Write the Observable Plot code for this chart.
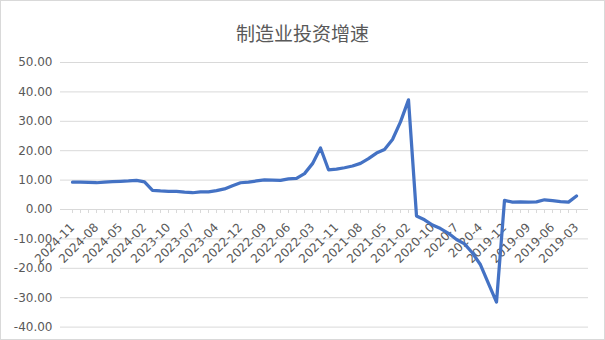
<!DOCTYPE html>
<html>
<head>
<meta charset="utf-8">
<script src="https://cdn.jsdelivr.net/npm/d3@7"></script>
<script src="https://cdn.jsdelivr.net/npm/@observablehq/plot@0.6"></script>
<style>
  html, body { margin: 0; padding: 0; background: #fff; }
  #wrap { position: relative; width: 605px; height: 340px; overflow: hidden; background: #fff; }
  #title { position: absolute; left: 0; right: 0; top: 20px; text-align: center;
           font-family: "Noto Sans CJK SC", sans-serif; font-size: 19px; color: #595959; line-height: 26px; }
  #frame { position: absolute; left: 0; top: 0; width: 603px; height: 338px; border: 1px solid #d9d9d9; pointer-events: none; }
</style>
</head>
<body>
<div id="wrap">
  <div id="chart"></div>
  <div id="title">制造业投资增速</div>
  <div id="frame"></div>
</div>
<script>
const months = [
  "2024-11","2024-10","2024-09","2024-08","2024-07","2024-06","2024-05","2024-04","2024-03","2024-02",
  "2023-12","2023-11","2023-10","2023-09","2023-08","2023-07","2023-06","2023-05","2023-04","2023-03","2023-02",
  "2022-12","2022-11","2022-10","2022-09","2022-08","2022-07","2022-06","2022-05","2022-04","2022-03","2022-02",
  "2021-12","2021-11","2021-10","2021-09","2021-08","2021-07","2021-06","2021-05","2021-04","2021-03","2021-02",
  "2020-12","2020-11","2020-10","2020-9","2020-8","2020-7","2020-6","2020-5","2020-4","2020-3","2020-2",
  "2019-12","2019-11","2019-10","2019-09","2019-08","2019-07","2019-06","2019-05","2019-04","2019-03"
];
const values = [
  9.3, 9.3, 9.2, 9.1, 9.3, 9.5, 9.6, 9.7, 9.9, 9.4,
  6.5, 6.3, 6.2, 6.2, 5.9, 5.7, 6.0, 6.0, 6.4, 7.0, 8.1,
  9.1, 9.3, 9.7, 10.1, 10.0, 9.9, 10.4, 10.6, 12.2, 15.6, 20.9,
  13.5, 13.7, 14.2, 14.8, 15.7, 17.3, 19.2, 20.4, 23.8, 29.8, 37.3,
  -2.2, -3.5, -5.3, -6.5, -8.1, -10.2, -11.7, -14.8, -18.8, -25.2, -31.5,
  3.1, 2.5, 2.6, 2.5, 2.6, 3.3, 3.0, 2.7, 2.5, 4.6
];
const xTickLabels = [
  "2024-11","2024-08","2024-05","2024-02","2023-10","2023-07","2023-04","2022-12","2022-09","2022-06","2022-03",
  "2021-11","2021-08","2021-05","2021-02","2020-10","2020-7","2020-4","2019-12","2019-09","2019-06","2019-03"
];
const yTicks = [-40, -30, -20, -10, 0, 10, 20, 30, 40, 50];

const data = months.map((m, i) => ({month: m, value: values[i]}));
const grey = "#595959";
const gridColor = "#d9d9d9";

const chart = Plot.plot({
  width: 605,
  height: 340,
  marginTop: 62,
  marginBottom: 13.4,
  marginLeft: 60,
  marginRight: 17,
  style: {fontFamily: "DejaVu Sans", fontSize: "12px", color: grey, background: "transparent"},
  x: {type: "point", domain: months, padding: 0, axis: null},
  y: {domain: [-40, 50], axis: null},
  marks: [
    Plot.gridY({ticks: yTicks, stroke: gridColor, strokeOpacity: 1}),
    Plot.axisY({ticks: yTicks, tickFormat: d => d.toFixed(2), tickSize: 0, tickPadding: 8, fontSize: 12, fill: grey, label: null}),
    Plot.ruleX(months, {x: d => d, y1: 0, y2: 0, insetBottom: -4, stroke: gridColor}),
    Plot.text(xTickLabels, {x: d => d, y: 0, text: d => d, rotate: -45, textAnchor: "end", dx: 0, dy: 16, fontSize: 12, fill: grey}),
    Plot.line(data, {x: "month", y: "value", stroke: "#4472C4", strokeWidth: 3.25, strokeLinejoin: "round"})
  ]
});
document.getElementById("chart").appendChild(chart);
</script>
</body>
</html>
